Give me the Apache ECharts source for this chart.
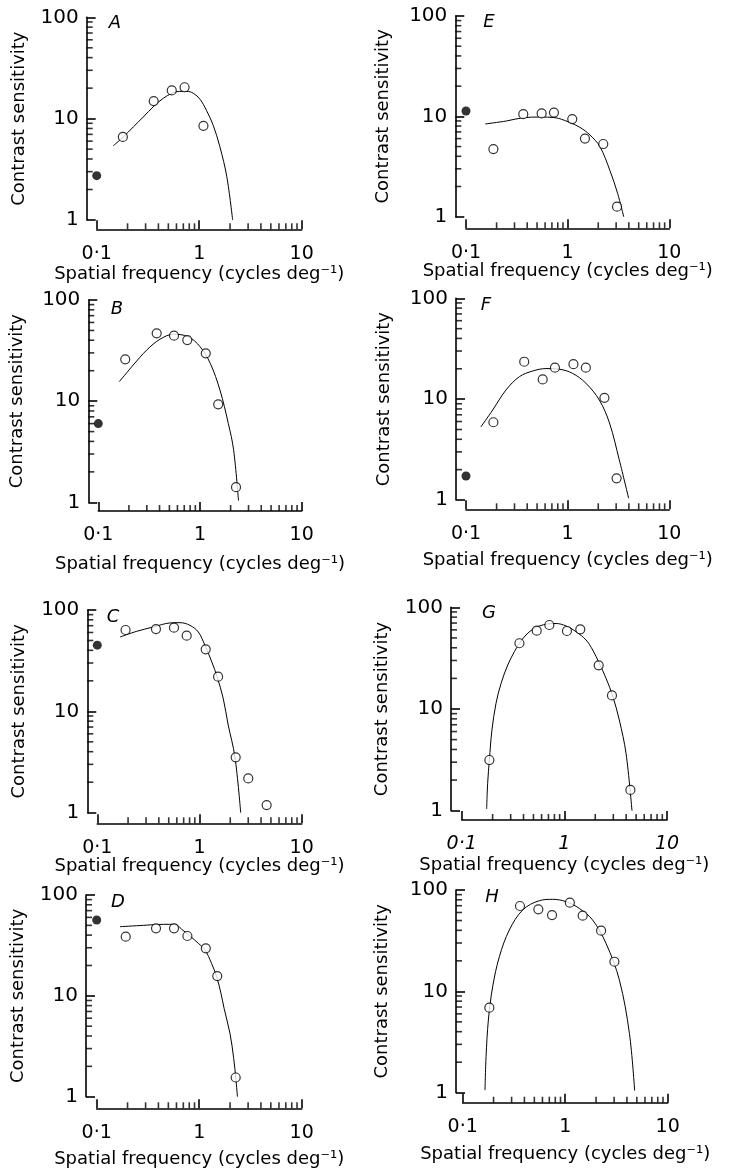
<!DOCTYPE html>
<html>
<head>
<meta charset="utf-8">
<script src="https://cdn.jsdelivr.net/npm/echarts@6/dist/echarts.min.js"></script>
<style>html,body{margin:0;padding:0;background:#fff;}#c{width:732px;height:1171px;}</style>
</head>
<body>
<div id="c"></div>
<script>
// ---- axis ticks ----
const xTicks = [0.1, 1, 10];
const xTickLabels = ['0·1', '1', '10'];
const yTicks = [1, 10, 100];
const yTickLabels = ['1', '10', '100'];
const xMinorTicks = [0.2, 0.3, 0.4, 0.5, 0.6, 0.7, 0.8, 0.9, 2, 3, 4, 5, 6, 7, 8, 9];
const yMinorTicks = [2, 3, 4, 5, 6, 7, 8, 9, 20, 30, 40, 50, 60, 70, 80, 90];
const xTitle = 'Spatial frequency (cycles deg⁻¹)';
const yTitle = 'Contrast sensitivity';

// ---- panel A ----
const freqA = [0.18, 0.36, 0.54, 0.72, 1.10];
const sensA = [6.6, 14.9, 19.0, 20.4, 8.5];
const uniformA = [2.74];
const fitFreqA = [0.145, 0.182, 0.228, 0.285, 0.362, 0.447, 0.543, 0.649, 0.755, 0.877, 1.02, 1.18, 1.37, 1.59, 1.86, 2.12];
const fitSensA = [5.4, 6.6, 8.3, 10.4, 13.3, 15.9, 17.8, 18.6, 18.6, 17.8, 15.5, 12.0, 8.6, 5.3, 2.67, 1.0];

// ---- panel B ----
const freqB = [0.184, 0.375, 0.555, 0.75, 1.14, 1.51, 2.26];
const sensB = [25.9, 46.8, 44.4, 40.2, 29.7, 9.3, 1.41];
const uniformB = [6.0];
const fitFreqB = [0.161, 0.221, 0.299, 0.404, 0.546, 0.766, 1.0, 1.26, 1.57, 1.9, 2.14, 2.39];
const fitSensB = [15.6, 22.8, 32, 40.9, 45.8, 43.4, 34.6, 23.7, 12.9, 6.0, 3.3, 1.04];

// ---- panel C ----
const freqC = [0.189, 0.375, 0.563, 0.749, 1.15, 1.52, 2.26, 3.0, 4.54];
const sensC = [63.5, 64.9, 66.9, 55.8, 40.9, 22.0, 3.52, 2.18, 1.19];
const uniformC = [45];
const fitFreqC = [0.167, 0.243, 0.353, 0.514, 0.644, 0.807, 0.973, 1.13, 1.32, 1.49, 1.71, 1.9, 2.22, 2.53];
const fitSensC = [54.2, 61.6, 68, 74.5, 75, 70.6, 60.7, 44.8, 30.7, 21.8, 13.3, 7.5, 3.57, 1.0];

// ---- panel D ----
const freqD = [0.192, 0.379, 0.568, 0.767, 1.16, 1.5, 2.27];
const sensD = [38.6, 46.7, 46.7, 39.2, 29.6, 15.7, 1.55];
const uniformD = [56.5];
const fitFreqD = [0.169, 0.285, 0.447, 0.581, 0.675, 0.813, 0.98, 1.14, 1.32, 1.48, 1.63, 1.75, 2.0, 2.17, 2.28, 2.36];
const fitSensD = [48.5, 50, 51.2, 51.2, 45.7, 39.2, 33.2, 28.5, 21, 15.5, 10.6, 7.5, 4.2, 2.4, 1.5, 1.0];

// ---- panel E ----
const freqE = [0.186, 0.366, 0.555, 0.733, 1.11, 1.48, 2.24, 3.06];
const sensE = [4.72, 10.5, 10.7, 10.9, 9.4, 6.0, 5.3, 1.26];
const uniformE = [11.3];
const fitFreqE = [0.155, 0.251, 0.366, 0.534, 0.75, 1.01, 1.32, 1.66, 2.08, 2.6, 3.1, 3.56];
const fitSensE = [8.4, 9.0, 9.7, 9.84, 9.7, 8.83, 7.77, 6.51, 4.98, 2.9, 1.71, 1.0];

// ---- panel F ----
const freqF = [0.186, 0.374, 0.568, 0.75, 1.14, 1.51, 2.3, 3.03];
const sensF = [5.9, 23.5, 15.7, 20.5, 22.2, 20.5, 10.3, 1.64];
const uniformF = [1.73];
const fitFreqF = [0.14, 0.183, 0.247, 0.335, 0.452, 0.612, 0.83, 1.12, 1.51, 2.05, 2.58, 3.22, 3.98];
const fitSensF = [5.3, 7.8, 12.3, 16.7, 19.0, 20.1, 19.8, 18.0, 14.4, 9.8, 5.8, 2.5, 1.04];

// ---- panel G ----
const freqG = [0.186, 0.365, 0.538, 0.714, 1.06, 1.43, 2.16, 2.91, 4.4];
const sensG = [3.15, 44.3, 58.9, 67, 58.5, 60.8, 26.9, 13.6, 1.6];
const uniformG = [];
const fitFreqG = [0.175, 0.179, 0.186, 0.197, 0.216, 0.242, 0.281, 0.326, 0.365, 0.423, 0.492, 0.571, 0.688, 0.83, 1.04, 1.3, 1.626, 1.89, 2.19, 2.55, 2.96, 3.43, 3.99, 4.56];
const fitSensG = [1.04, 1.86, 3.15, 6.2, 11.4, 17.9, 27.1, 36.6, 44.3, 53.4, 60.8, 65.5, 68.6, 69.3, 65.5, 57.6, 47.7, 38, 28.1, 20, 13.4, 7.8, 3.66, 1.0];

// ---- panel H ----
const freqH = [0.182, 0.362, 0.547, 0.744, 1.11, 1.48, 2.24, 3.02];
const sensH = [6.9, 69.5, 64.4, 56.6, 75, 55.8, 39.7, 19.6];
const uniformH = [];
const fitFreqH = [0.165, 0.169, 0.178, 0.196, 0.228, 0.285, 0.385, 0.56, 0.756, 1.02, 1.37, 1.85, 2.5, 3.38, 4.23, 4.76];
const fitSensH = [1.06, 2.27, 5.21, 11.1, 22, 40.3, 63.5, 78.5, 80.9, 76.7, 65.9, 50.6, 29.8, 12.9, 3.85, 1.05];

const panelData = {
  A: [freqA, sensA, uniformA, fitFreqA, fitSensA],
  B: [freqB, sensB, uniformB, fitFreqB, fitSensB],
  C: [freqC, sensC, uniformC, fitFreqC, fitSensC],
  D: [freqD, sensD, uniformD, fitFreqD, fitSensD],
  E: [freqE, sensE, uniformE, fitFreqE, fitSensE],
  F: [freqF, sensF, uniformF, fitFreqF, fitSensF],
  G: [freqG, sensG, uniformG, fitFreqG, fitSensG],
  H: [freqH, sensH, uniformH, fitFreqH, fitSensH]
};

// ---- layout (style only) ----
const layout = [
  {id: 'A', left: 96.7, top: 17.3, width: 205, height: 202.7, xOff: 9.3, yOff: 10, xGap: 36, yGap: 58, lx: 115, ly: 23},
  {id: 'E', left: 466, top: 16, width: 203.3, height: 200.7, xOff: 11.6, yOff: 10.7, xGap: 34, yGap: 63, lx: 489, ly: 22},
  {id: 'B', left: 98.3, top: 300, width: 203.4, height: 202.3, xOff: 8.7, yOff: 10, xGap: 44, yGap: 62, lx: 117, ly: 309},
  {id: 'F', left: 466, top: 298.3, width: 203.3, height: 201.7, xOff: 9.3, yOff: 10, xGap: 42, yGap: 63, lx: 486, ly: 305},
  {id: 'C', left: 97.3, top: 610, width: 204.4, height: 202.7, xOff: 10.6, yOff: 10, xGap: 34, yGap: 59, lx: 113, ly: 617},
  {id: 'G', left: 461.7, top: 607.3, width: 205.3, height: 203.4, xOff: 9.3, yOff: 10.7, xGap: 36, yGap: 60, lx: 489, ly: 613, italicX: true},
  {id: 'D', left: 96.7, top: 895, width: 205, height: 201.7, xOff: 11.6, yOff: 10.7, xGap: 42, yGap: 59, lx: 118, ly: 902},
  {id: 'H', left: 462.7, top: 890, width: 205, height: 202.7, xOff: 10, yOff: 6.7, xGap: 43, yGap: 65, lx: 492, ly: 897}
];

const FONT = '"DejaVu Sans", "Liberation Sans", Arial, sans-serif';
const X_MIN = 0.1, X_MAX = 10, Y_MIN = 1, Y_MAX = 100;
const MINOR_LEN = 6, MAJOR_LEN = 9, AXIS_W = 1.6;

function lookup(ticks, labels, v) {
  for (let i = 0; i < ticks.length; i++) {
    if (Math.abs(Math.log10(v) - Math.log10(ticks[i])) < 1e-6) return labels[i];
  }
  return '';
}

const grids = [], xAxes = [], yAxes = [], series = [], graphics = [];

layout.forEach((L, i) => {
  const [fq, ss, uni, ff, fs] = panelData[L.id];
  grids.push({left: L.left, top: L.top, width: L.width, height: L.height, containLabel: false});
  xAxes.push({
    gridIndex: i, type: 'log', logBase: 10, min: X_MIN, max: X_MAX, offset: L.xOff,
    axisLine: {show: true, onZero: false, lineStyle: {color: '#000', width: AXIS_W}},
    axisTick: {show: true, inside: true, length: MAJOR_LEN, lineStyle: {color: '#000', width: AXIS_W}},
    axisLabel: {color: '#000', fontSize: 19, fontFamily: FONT, margin: 15,
      fontStyle: L.italicX ? 'italic' : 'normal',
      formatter: v => lookup(xTicks, xTickLabels, v)},
    splitLine: {show: false},
    name: xTitle, nameLocation: 'middle', nameGap: L.xGap, nameMoveOverlap: false,
    nameTextStyle: {color: '#000', fontSize: 18, fontFamily: FONT}
  });
  yAxes.push({
    gridIndex: i, type: 'log', logBase: 10, min: Y_MIN, max: Y_MAX, offset: L.yOff,
    axisLine: {show: true, onZero: false, lineStyle: {color: '#000', width: AXIS_W}},
    axisTick: {show: true, inside: true, length: MAJOR_LEN, lineStyle: {color: '#000', width: AXIS_W}},
    axisLabel: {color: '#000', fontSize: 20, fontFamily: FONT, margin: 8,
      formatter: v => lookup(yTicks, yTickLabels, v)},
    splitLine: {show: false},
    name: yTitle, nameLocation: 'middle', nameGap: L.yGap, nameMoveOverlap: false,
    nameTextStyle: {color: '#000', fontSize: 18, fontFamily: FONT}
  });
  // minor ticks on x axis, placed through the axis scale
  series.push({
    type: 'scatter', xAxisIndex: i, yAxisIndex: i, clip: false, z: 4,
    symbol: 'rect', symbolSize: [AXIS_W, MINOR_LEN], symbolOffset: [0, L.xOff - MINOR_LEN / 2],
    data: xMinorTicks.map(v => [v, Y_MIN]),
    itemStyle: {color: '#000'}
  });
  // minor ticks on y axis
  series.push({
    type: 'scatter', xAxisIndex: i, yAxisIndex: i, clip: false, z: 4,
    symbol: 'rect', symbolSize: [MINOR_LEN, AXIS_W], symbolOffset: [-L.yOff + MINOR_LEN / 2, 0],
    data: yMinorTicks.map(v => [X_MIN, v]),
    itemStyle: {color: '#000'}
  });
  // fitted curve
  series.push({
    type: 'line', xAxisIndex: i, yAxisIndex: i, showSymbol: false, smooth: 0.35,
    clip: false, z: 2,
    data: ff.map((f, k) => [f, fs[k]]),
    lineStyle: {color: '#000', width: 1}
  });
  // measured points (open)
  series.push({
    type: 'scatter', xAxisIndex: i, yAxisIndex: i, symbol: 'circle', symbolSize: 9,
    clip: false, z: 3,
    data: fq.map((f, k) => [f, ss[k]]),
    itemStyle: {color: '#fff', borderColor: '#000', borderWidth: 1.2}
  });
  // uniform-field point (filled) plotted at 0.1
  series.push({
    type: 'scatter', xAxisIndex: i, yAxisIndex: i, symbol: 'circle', symbolSize: 9,
    clip: false, z: 3,
    data: uni.map(s => [X_MIN, s]),
    itemStyle: {color: '#000'}
  });
  graphics.push({
    type: 'text', x: L.lx, y: L.ly, silent: true,
    style: {text: L.id, fill: '#000', font: 'italic 18px ' + FONT, textAlign: 'center', textVerticalAlign: 'middle'}
  });
});

const chart = echarts.init(document.getElementById('c'), null, {renderer: 'canvas', width: 732, height: 1171});
chart.setOption({
  animation: false,
  backgroundColor: '#fff',
  grid: grids, xAxis: xAxes, yAxis: yAxes, series: series, graphic: graphics
});
</script>
</body>
</html>
